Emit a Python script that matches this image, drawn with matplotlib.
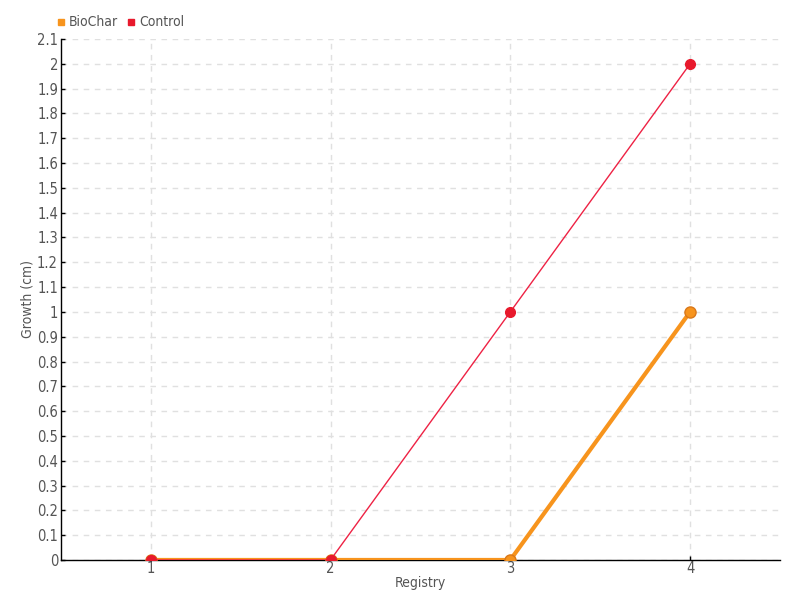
import matplotlib
matplotlib.use("Agg")
import matplotlib.pyplot as plt
from matplotlib.lines import Line2D

registry = [1, 2, 3, 4]
biochar = [0, 0, 0, 1]
control = [0, 0, 1, 2]
y_ticks = [round(i * 0.1, 1) for i in range(22)]
y_labels = [f"{v:g}" for v in y_ticks]

plt.rcParams['font.family'] = ['DejaVu Sans']
plt.rcParams['font.stretch'] = 'condensed'

fig = plt.figure(figsize=(8, 6), dpi=100)
ax = fig.add_axes([0.076, 0.0667, 0.899, 0.8683])

text_col = '#555555'
orange = '#f7941d'
red = '#e8192c'

ax.plot(registry, biochar, color=orange, lw=3, marker='o', ms=8,
        markerfacecolor=orange, markeredgecolor='#d9781a', markeredgewidth=1, zorder=3)
ax.plot(registry, control, color='#ee2244', lw=1, marker='o', ms=7,
        markerfacecolor=red, markeredgecolor=red, zorder=4)

ax.set_xlim(0.5, 4.5)
ax.set_ylim(0, 2.1)
ax.set_xticks(registry)
ax.set_xticklabels([str(r) for r in registry])
ax.set_yticks(y_ticks)
ax.set_yticklabels(y_labels)

ax.grid(True, color='#e0e0e0', linestyle=(0, (4, 4)), lw=1)
ax.set_axisbelow(True)
for s in ['top', 'right']:
    ax.spines[s].set_visible(False)
for s in ['left', 'bottom']:
    ax.spines[s].set_color('black')
    ax.spines[s].set_linewidth(1)

ax.tick_params(axis='both', direction='in', length=3, width=1, colors='black',
               labelcolor=text_col, labelsize=10.5, pad=2)
ax.tick_params(axis='x', pad=1)

ax.set_xlabel('Registry', color=text_col, fontsize=10, labelpad=0)
ax.set_ylabel('Growth (cm)', color=text_col, fontsize=10, labelpad=2)

handles = [Line2D([], [], color=orange, marker='s', ls='', ms=5),
           Line2D([], [], color=red, marker='s', ls='', ms=5)]
fig.legend(handles, ['BioChar', 'Control'], loc='upper left', bbox_to_anchor=(0.055, 0.995),
           ncol=2, frameon=False, fontsize=10, labelcolor=text_col,
           handlelength=0.6, handletextpad=0.3, columnspacing=0.6)

fig.savefig('out.png', dpi=100)
